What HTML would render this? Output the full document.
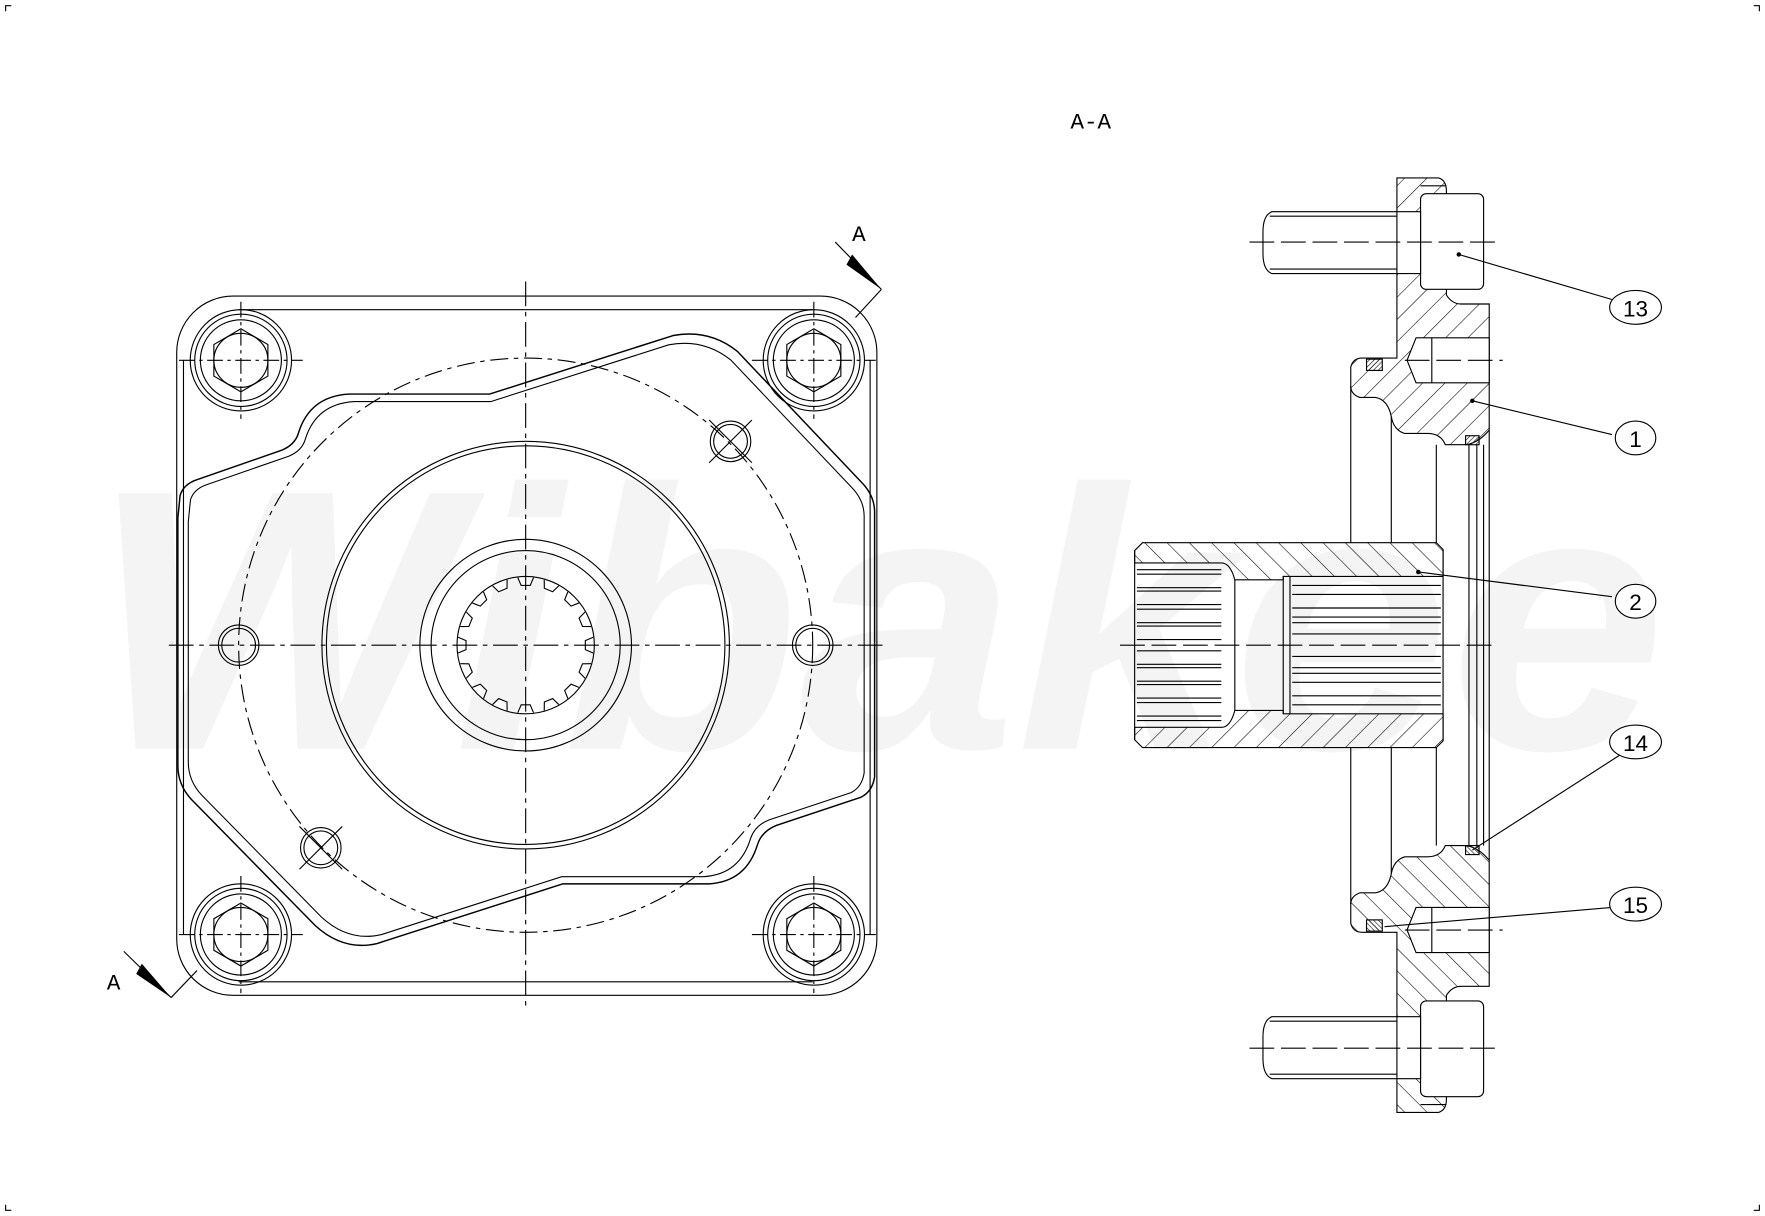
<!DOCTYPE html>
<html><head><meta charset="utf-8"><style>html,body{margin:0;padding:0;background:#fff}svg{display:block}</style></head>
<body>
<svg width="1765" height="1216" viewBox="0 0 1568 1080" preserveAspectRatio="none" xmlns="http://www.w3.org/2000/svg">
<defs>
<pattern id="h1" width="14" height="14" patternUnits="userSpaceOnUse" patternTransform="rotate(45)"><line x1="0" y1="0" x2="0" y2="14" stroke="#000" stroke-width="1"/></pattern>
<pattern id="h2" width="14" height="14" patternUnits="userSpaceOnUse" patternTransform="rotate(-45)"><line x1="0" y1="0" x2="0" y2="14" stroke="#000" stroke-width="1"/></pattern>
<pattern id="h3" width="3" height="3" patternUnits="userSpaceOnUse" patternTransform="rotate(45)"><line x1="0" y1="0" x2="0" y2="3" stroke="#000" stroke-width="1"/></pattern>
<g id="bolt">
<circle r="45" fill="none" stroke="#000"/><circle r="41" fill="none" stroke="#000"/><circle r="36" fill="none" stroke="#000"/>
<polygon points="0,-28 24,-14 24,14 0,28 -24,14 -24,-14" fill="none" stroke="#000"/>
<circle r="24" fill="none" stroke="#000"/>
<line x1="-55" y1="0" x2="55" y2="0" stroke="#000" stroke-dasharray="14,4,3,4"/><line x1="0" y1="-52" x2="0" y2="52" stroke="#000" stroke-dasharray="14,4,3,4"/>
</g>
<g id="tooth"><polyline points="-7,-60 -4,-53 4,-53 7,-60" fill="#fff" stroke="#000"/></g>
<g id="hole"><circle r="18" fill="none" stroke="#000"/><circle r="15" fill="none" stroke="#000"/></g>
</defs>
<rect width="1568" height="1080" fill="#fff"/>
<text x="80" y="665" font-family="Liberation Sans, sans-serif" font-size="330" font-weight="bold" font-style="italic" fill="#f4f4f4" textLength="1400" lengthAdjust="spacingAndGlyphs">Wibakee</text>
<g fill="none" stroke="#000" stroke-width="1">
<path d="M5,10 V5 H10 M1558,5 H1563 V10 M5,1070 V1075 H10 M1563,1070 V1075 H1558"/>
<rect x="157" y="263" width="622" height="621" rx="50"/>
<line x1="212" y1="275" x2="722" y2="275"/><line x1="212" y1="872" x2="722" y2="872"/>
<line x1="163" y1="320" x2="163" y2="830"/><line x1="773" y1="320" x2="773" y2="830"/>
<path d="M160,440 Q163,430 175,426 L250,400 Q262,395 265,385 Q275,352 310,350 L435,350 L598,298 Q630,292 655,312 L765,428 Q777,440 777,455 L777,690 Q775,703 765,708 L690,733 Q677,738 673,750 Q663,783 630,785 L500,785 L335,838 Q305,845 280,822 L170,710 Q158,697 158,680 L158,460 Z" stroke-width="1.3"/>
<path transform="translate(467,573) scale(0.97) translate(-467,-573)" d="M160,440 Q163,430 175,426 L250,400 Q262,395 265,385 Q275,352 310,350 L435,350 L598,298 Q630,292 655,312 L765,428 Q777,440 777,455 L777,690 Q775,703 765,708 L690,733 Q677,738 673,750 Q663,783 630,785 L500,785 L335,838 Q305,845 280,822 L170,710 Q158,697 158,680 L158,460 Z"/>
<circle cx="467" cy="573" r="255" stroke-dasharray="16,5,4,5"/>
<circle cx="467" cy="573" r="181"/><circle cx="467" cy="573" r="177"/>
<circle cx="467" cy="573" r="94"/><circle cx="467" cy="573" r="84"/>
<circle cx="467" cy="573" r="61"/>
<g transform="translate(467,573)">
<use href="#tooth" transform="rotate(0)"/><use href="#tooth" transform="rotate(22.5)"/><use href="#tooth" transform="rotate(45)"/><use href="#tooth" transform="rotate(67.5)"/><use href="#tooth" transform="rotate(90)"/><use href="#tooth" transform="rotate(112.5)"/><use href="#tooth" transform="rotate(135)"/><use href="#tooth" transform="rotate(157.5)"/><use href="#tooth" transform="rotate(180)"/><use href="#tooth" transform="rotate(202.5)"/><use href="#tooth" transform="rotate(225)"/><use href="#tooth" transform="rotate(247.5)"/><use href="#tooth" transform="rotate(270)"/><use href="#tooth" transform="rotate(292.5)"/><use href="#tooth" transform="rotate(315)"/><use href="#tooth" transform="rotate(337.5)"/>
</g>
<use href="#bolt" x="214" y="320"/><use href="#bolt" x="723" y="320"/><use href="#bolt" x="214" y="830"/><use href="#bolt" x="723" y="830"/>
<use href="#hole" x="212" y="573"/><use href="#hole" x="722" y="573"/>
<use href="#hole" x="649" y="392"/><use href="#hole" x="285" y="753"/>
<path d="M630,373 L668,411 M668,373 L630,411 M266,734 L304,772 M304,734 L266,772"/>
<line x1="150" y1="573" x2="785" y2="573" stroke-dasharray="22,5,4,5"/>
<line x1="467" y1="250" x2="467" y2="895" stroke-dasharray="22,5,4,5"/>
<line x1="742" y1="215" x2="783" y2="257"/><line x1="783" y1="257" x2="760" y2="282"/>
<line x1="110" y1="845" x2="152" y2="886"/><line x1="152" y1="886" x2="175" y2="862"/>
</g>
<polygon points="757,226 783,257 752,235" fill="#000"/>
<polygon points="126,856 152,886 121,865" fill="#000"/>
<g font-family="Liberation Mono, monospace" font-size="20" fill="#000">
<text x="757" y="214">A</text><text x="95" y="879">A</text><text x="951" y="114">A-A</text>
</g>
<g stroke="#000" stroke-width="1">
<g id="upper">
<path fill="url(#h1)" d="M1241,158 L1278,158 Q1285,160 1285,170 L1285,262 Q1290,270 1298,270 L1323,270 L1323,382 Q1312,395 1300,395 L1284,395 Q1280,385 1268,385 L1248,385 Q1238,382 1236,370 Q1233,355 1222,353 L1208,353 Q1200,350 1200,343 L1200,326 Q1202,318 1210,318 L1241,318 Z"/>
<path fill="#fff" d="M1258,300 L1323,300 L1323,340 L1258,340 L1250,320 Z"/>
<line x1="1272" y1="300" x2="1272" y2="340"/>
<rect x="1262" y="172" width="56" height="85" rx="5" fill="#fff"/>
<line x1="1262" y1="165" x2="1285" y2="165"/>
<path fill="#fff" d="M1130,188 L1262,188 L1262,243 L1130,243 Q1122,240 1122,225 L1122,206 Q1122,191 1130,188 Z"/>
<line x1="1128" y1="192" x2="1241" y2="192"/><line x1="1128" y1="239" x2="1241" y2="239"/>
<line x1="1241" y1="188" x2="1241" y2="243"/>
<line x1="1110" y1="215" x2="1330" y2="215" stroke-dasharray="22,6"/>
<line x1="1248" y1="320" x2="1335" y2="320" stroke-dasharray="22,6"/>
<rect x="1214" y="319" width="14" height="10" fill="url(#h3)"/>
<rect x="1302" y="387" width="12" height="8" fill="url(#h3)"/>
<line x1="1200" y1="343" x2="1200" y2="482"/><line x1="1236" y1="370" x2="1236" y2="482"/><line x1="1276" y1="395" x2="1276" y2="482"/>
<path fill="url(#h2)" d="M1015,482 L1276,482 L1282,488 L1282,512 L1140,512 L1140,515 L1097,515 Q1093,500 1085,500 L1008,500 L1008,489 Z"/>
</g>
<use href="#upper" transform="translate(0,1146) scale(1,-1)"/>
<line x1="1008" y1="489" x2="1008" y2="657" fill="none"/>
<line x1="1282" y1="488" x2="1282" y2="658"/>
<line x1="1097" y1="515" x2="1097" y2="631"/><line x1="1140" y1="512" x2="1140" y2="634"/><line x1="1146" y1="512" x2="1146" y2="634"/>
<line x1="1305" y1="395" x2="1305" y2="751"/><line x1="1312" y1="395" x2="1312" y2="751"/><line x1="1318" y1="395" x2="1318" y2="751"/>
<line x1="1323" y1="382" x2="1323" y2="764"/>
<g>
<path fill="none" d="M1010,506 H1085 M1010,510 H1085 M1010,522 H1085 M1010,525 H1085 M1010,537 H1085 M1010,541 H1085 M1010,553 H1085 M1010,556 H1085 M1010,568 H1085 M1010,578 H1085 M1010,590 H1085 M1010,593 H1085 M1010,605 H1085 M1010,608 H1085 M1010,620 H1085 M1010,624 H1085 M1010,636 H1085 M1010,640 H1085"/>
<path fill="none" d="M1148,520 H1280 M1148,528 H1280 M1148,540 H1280 M1148,548 H1280 M1148,553 H1280 M1148,563 H1280 M1148,583 H1280 M1148,593 H1280 M1148,598 H1280 M1148,606 H1280 M1148,618 H1280 M1148,626 H1280"/>
</g>
<line x1="995" y1="573" x2="1330" y2="573" stroke-dasharray="22,6"/>
<line x1="1296" y1="226" x2="1432" y2="266"/>
<line x1="1308" y1="356" x2="1432" y2="386"/>
<line x1="1260" y1="508" x2="1432" y2="530"/>
<line x1="1308" y1="755" x2="1440" y2="670"/>
<line x1="1230" y1="823" x2="1432" y2="806"/>
<g fill="#fff"><ellipse cx="1453" cy="273" rx="23" ry="15"/><ellipse cx="1453" cy="389" rx="18" ry="15"/><ellipse cx="1453" cy="534" rx="18" ry="15"/><ellipse cx="1453" cy="659" rx="23" ry="15"/><ellipse cx="1453" cy="803" rx="23" ry="15"/></g>
</g>
<g fill="#000"><circle cx="1296" cy="226" r="2"/><circle cx="1308" cy="356" r="2"/><circle cx="1260" cy="508" r="2"/></g>
<g font-family="Liberation Sans Narrow, Liberation Sans, sans-serif" font-size="20" fill="#000" text-anchor="middle">
<text x="1453" y="281">13</text><text x="1453" y="397">1</text><text x="1453" y="542">2</text><text x="1453" y="667">14</text><text x="1453" y="811">15</text>
</g>
</svg>
</body></html>
